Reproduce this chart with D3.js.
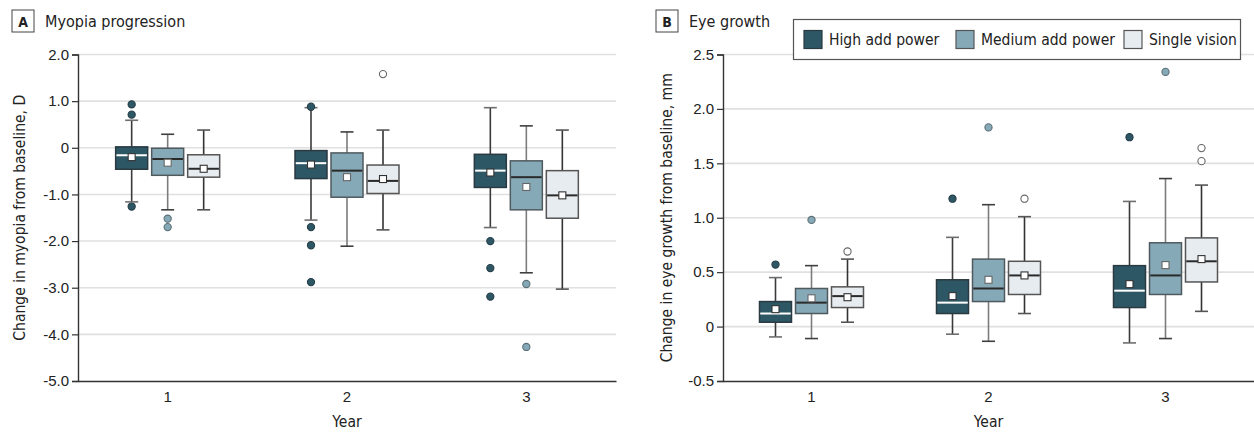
<!DOCTYPE html>
<html>
<head>
<meta charset="utf-8">
<script src="https://cdn.jsdelivr.net/npm/d3@7"></script>
<style>
  body { margin: 0; background: #fff; }
  svg { font-family: "Liberation Sans Narrow", "DejaVu Sans Condensed", "Roboto", sans-serif; }
</style>
</head>
<body>
<script>
// years and groups
var years = ["1", "2", "3"];
var groups = ["High add power", "Medium add power", "Single vision"];

// box stats per year: [lower whisker, q1, median, q3, upper whisker]
var myopiaHigh = [[-1.16, -0.46, -0.16, 0.02, 0.59], [-1.55, -0.66, -0.33, -0.06, 0.86], [-1.71, -0.85, -0.49, -0.14, 0.86]];
var myopiaMedium = [[-1.33, -0.59, -0.24, -0.01, 0.29], [-2.11, -1.06, -0.49, -0.11, 0.34], [-2.68, -1.33, -0.63, -0.28, 0.47]];
var myopiaSingle = [[-1.33, -0.63, -0.45, -0.15, 0.38], [-1.76, -0.98, -0.71, -0.37, 0.38], [-3.03, -1.51, -1.02, -0.49, 0.38]];
var myopiaMeans = [[-0.20, -0.36, -0.53], [-0.32, -0.63, -0.84], [-0.45, -0.67, -1.02]];
var myopiaOutliers = [
  [[0.93, 0.71, -1.26], [0.88, -1.70, -2.09, -2.88], [-2.00, -2.58, -3.19]],
  [[-1.52, -1.70], [], [-2.92, -4.27]],
  [[], [1.58], []]
];

var growthHigh = [[-0.095, 0.04, 0.12, 0.23, 0.45], [-0.07, 0.12, 0.22, 0.43, 0.82], [-0.15, 0.175, 0.33, 0.56, 1.15]];
var growthMedium = [[-0.11, 0.12, 0.22, 0.35, 0.56], [-0.135, 0.23, 0.35, 0.62, 1.12], [-0.11, 0.295, 0.47, 0.77, 1.36]];
var growthSingle = [[0.04, 0.175, 0.28, 0.365, 0.62], [0.12, 0.295, 0.47, 0.60, 1.01], [0.14, 0.41, 0.60, 0.815, 1.30]];
var growthMeans = [[0.16, 0.28, 0.39], [0.26, 0.43, 0.565], [0.27, 0.47, 0.62]];
var growthOutliers = [
  [[0.57], [1.175], [1.74]],
  [[0.98], [1.83], [2.34]],
  [[0.69], [1.175], [1.64, 1.52]]
];

var myopiaTicks = [2, 1, 0, -1, -2, -3, -4, -5];
var growthTicks = [2.5, 2, 1.5, 1, 0.5, 0, -0.5];

// styles per group
var fills = ["#2e5766", "#86a9b8", "#e7ecf0"];
var boxStroke = ["#2a3a40", "#4f5a5f", "#555"];
var medianColor = ["#ffffff", "#2a2a2a", "#2a2a2a"];
var whiskerColor = ["#3a3a3a", "#7c7c7c", "#333"];
var capColor = ["#6e6e6e", "#3f3f3f", "#555"];
var outlierFill = ["#2e5766", "#86a9b8", "#ffffff"];
var outlierStroke = ["#263f48", "#5d6f77", "#666"];

var W = 1254, H = 433;
var svg = d3.select("body").append("svg")
    .attr("width", W)
    .attr("height", H);

// hyphen instead of unicode minus, plain 0
function fmtTick(d) { return d === 0 ? "0" : d.toFixed(1); }

function panel(opt) {
    var g = svg.append("g");
    var x = d3.scaleBand().domain(years).range([opt.x0, opt.x1]);
    var off = d3.scalePoint().domain(groups).range([-36, 36]);
    var y = d3.scaleLinear().domain(opt.domain).range([381, 54.5]);
    var bw = 32;

    // grid
    g.append("g").selectAll("line")
        .data(opt.ticks.filter(function (t) { return t !== opt.domain[0]; }))
        .enter().append("line")
        .attr("x1", opt.x0).attr("x2", opt.x1)
        .attr("y1", function (d) { return y(d); })
        .attr("y2", function (d) { return y(d); })
        .attr("stroke", "#e0e0e0")
        .attr("stroke-width", 1.6);

    // y axis
    var yAxis = d3.axisLeft(y).tickValues(opt.ticks).tickFormat(fmtTick).tickSize(6).tickPadding(3);
    var ya = g.append("g").attr("transform", "translate(" + opt.x0 + ",0)").call(yAxis);
    ya.select(".domain").attr("stroke", "#333").attr("stroke-width", 1.4);
    ya.selectAll(".tick line").attr("stroke", "#333").attr("stroke-width", 1.2);
    ya.selectAll(".tick text").attr("font-size", 15).attr("fill", "#222")
        .attr("font-family", "inherit");

    // x axis
    var xAxis = d3.axisBottom(x).tickSize(0).tickPadding(10);
    var xa = g.append("g").attr("transform", "translate(0,381)").call(xAxis);
    xa.select(".domain").attr("stroke", "#333").attr("stroke-width", 1.6);
    xa.selectAll(".tick text").attr("font-size", 15).attr("fill", "#222")
        .attr("font-family", "inherit");

    // y title
    g.append("text")
        .attr("transform", "translate(" + opt.ytx + "," + y((opt.domain[0] + opt.domain[1]) / 2) + ") rotate(-90)")
        .attr("text-anchor", "middle")
        .attr("dy", "0.35em")
        .attr("font-size", 15.5)
        .attr("fill", "#222")
        .text(opt.ytitle);

    // x title
    g.append("text")
        .attr("x", (opt.x0 + opt.x1) / 2)
        .attr("y", 427)
        .attr("text-anchor", "middle")
        .attr("font-size", 15.5)
        .attr("fill", "#222")
        .text("Year");

    // panel label
    g.append("rect")
        .attr("x", opt.lx).attr("y", 10)
        .attr("width", 22).attr("height", 22)
        .attr("fill", "#fff").attr("stroke", "#444").attr("stroke-width", 1);
    g.append("text")
        .attr("x", opt.lx + 11).attr("y", 26.5)
        .attr("text-anchor", "middle")
        .attr("font-weight", "bold")
        .attr("font-size", 14)
        .attr("fill", "#222")
        .text(opt.letter);
    g.append("text")
        .attr("x", opt.lx + 33).attr("y", 26.5)
        .attr("font-size", 16)
        .attr("fill", "#222")
        .text(opt.title);

    // boxes
    opt.series.forEach(function (stats, gi) {
        var sg = g.append("g");
        stats.forEach(function (s, yi) {
            var cx = x(years[yi]) + x.bandwidth() / 2 + off(groups[gi]);
            // whisker stems
            sg.append("line").attr("x1", cx).attr("x2", cx)
                .attr("y1", y(s[3])).attr("y2", y(s[4]))
                .attr("stroke", whiskerColor[gi]).attr("stroke-width", 1.6);
            sg.append("line").attr("x1", cx).attr("x2", cx)
                .attr("y1", y(s[1])).attr("y2", y(s[0]))
                .attr("stroke", whiskerColor[gi]).attr("stroke-width", 1.6);
            // caps
            [s[0], s[4]].forEach(function (v) {
                sg.append("line").attr("x1", cx - 6.5).attr("x2", cx + 6.5)
                    .attr("y1", y(v)).attr("y2", y(v))
                    .attr("stroke", capColor[gi]).attr("stroke-width", 1.6);
            });
            // box
            sg.append("rect")
                .attr("x", cx - bw / 2).attr("y", y(s[3]))
                .attr("width", bw).attr("height", y(s[1]) - y(s[3]))
                .attr("fill", fills[gi])
                .attr("stroke", boxStroke[gi]).attr("stroke-width", 1.5);
            // median
            sg.append("line")
                .attr("x1", cx - bw / 2 + 0.75).attr("x2", cx + bw / 2 - 0.75)
                .attr("y1", y(s[2])).attr("y2", y(s[2]))
                .attr("stroke", medianColor[gi]).attr("stroke-width", 2);
            // mean
            var m = opt.means[gi][yi];
            sg.append("rect")
                .attr("x", cx - 3.5).attr("y", y(m) - 3.5)
                .attr("width", 7).attr("height", 7)
                .attr("fill", "#fff")
                .attr("stroke", gi === 1 ? "#666" : "#333").attr("stroke-width", 1.1);
            // outliers
            sg.selectAll(null)
                .data(opt.outliers[gi][yi])
                .enter().append("circle")
                .attr("cx", cx).attr("cy", function (d) { return y(d); })
                .attr("r", 3.6)
                .attr("fill", outlierFill[gi])
                .attr("stroke", outlierStroke[gi]).attr("stroke-width", 1.1);
        });
    });
}

panel({
    x0: 78, x1: 616, lx: 12,
    domain: [-5, 2],
    ticks: myopiaTicks,
    ytx: 20, ytitle: "Change in myopia from baseline, D",
    letter: "A", title: "Myopia progression",
    series: [myopiaHigh, myopiaMedium, myopiaSingle],
    means: myopiaMeans, outliers: myopiaOutliers
});

panel({
    x0: 723, x1: 1254, lx: 656,
    domain: [-0.5, 2.5],
    ticks: growthTicks,
    ytx: 667, ytitle: "Change in eye growth from baseline, mm",
    letter: "B", title: "Eye growth",
    series: [growthHigh, growthMedium, growthSingle],
    means: growthMeans, outliers: growthOutliers
});

// legend
var legend = svg.append("g");
legend.append("rect")
    .attr("x", 793.5).attr("y", 19.5)
    .attr("width", 447).attr("height", 40)
    .attr("fill", "#fff").attr("stroke", "#555").attr("stroke-width", 1.2);
var legendX = [804, 956, 1124];
groups.forEach(function (name, i) {
    legend.append("rect")
        .attr("x", legendX[i]).attr("y", 30.5)
        .attr("width", 18).attr("height", 18)
        .attr("fill", fills[i])
        .attr("stroke", i === 0 ? "#2a3a40" : "#555").attr("stroke-width", 1.2);
    legend.append("text")
        .attr("x", legendX[i] + 25).attr("y", 45)
        .attr("font-size", 15.5)
        .attr("fill", "#222")
        .text(name);
});
</script>
</body>
</html>
